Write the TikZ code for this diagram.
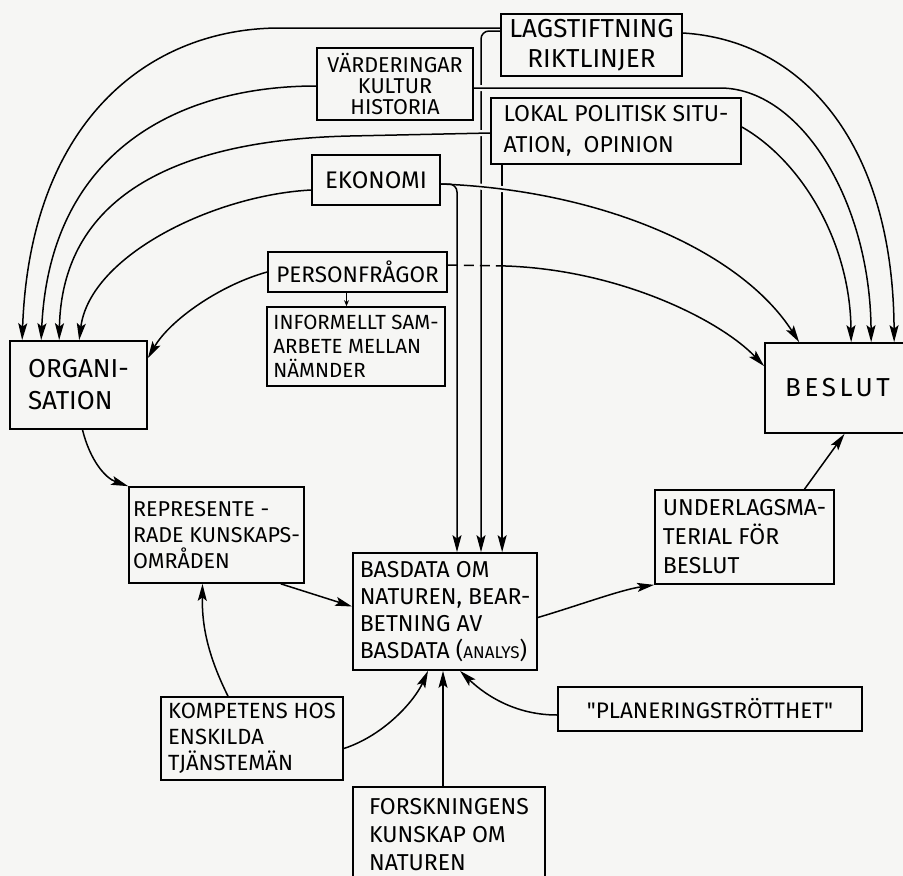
\documentclass[tikz,border=0pt]{standalone}
\usepackage{fontspec}
\setmainfont{Fira Sans}[Ligatures=TeXOff]
\usetikzlibrary{arrows.meta}
\pgfdeclarelayer{fg}
\pgfsetlayers{main,fg}
\definecolor{paper}{RGB}{246,246,244}
\newcommand\fsz[2]{\fontsize{#1}{#2}\selectfont}
\tikzset{
  box/.style={draw, line width=1.7pt, inner sep=0pt, align=left, font=\fsz{23}{27}},
  wire/.style={line width=1.5pt},
  conn/.style={wire, -{Stealth[length=17pt,width=9pt,inset=3.5pt]}},
  gap/.style={preaction={draw=paper, line width=6pt, -}},
  roundturn/.style={rounded corners=8pt},
}
\begin{document}
\begin{tikzpicture}[x=1pt,y=-1pt]
\fill[paper] (0,0) rectangle (903,876);
\useasboundingbox (0,0) rectangle (903,876);

% boxes, kept on top of the lines
\begin{pgfonlayer}{fg}
\node[box, minimum width=181pt, minimum height=62pt, align=center, font=\fsz{26}{30}] (lag) at (591.5,45) {LAGSTIFTNING\\RIKTLINJER};
\node[box, minimum width=156pt, minimum height=72pt, align=center, font=\fsz{21.5}{21}] (vard) at (395,84) {VÄRDERINGAR\\KULTUR\\HISTORIA};
\node[box, minimum width=250pt, minimum height=66pt, font=\fsz{23}{31}] (lokal) at (616,131) {LOKAL POLITISK SITU-\\ATION,\ \ OPINION};
\node[box, minimum width=128pt, minimum height=50pt, font=\fsz{24}{27}] (eko) at (376,180) {EKONOMI};
\node[box, minimum width=179pt, minimum height=40pt, font=\fsz{22.5}{27}] (pers) at (357.5,272) {PERSONFRÅGOR};
\node[box, minimum width=178pt, minimum height=79pt, font=\fsz{20.5}{24}] (inf) at (356,346.5) {INFORMELLT SAM-\\ARBETE MELLAN\\NÄMNDER};
\node[box, minimum width=137pt, minimum height=88pt, font=\fsz{26}{32}] (org) at (78.5,385) {ORGANI-\\SATION};
\node[box, minimum width=145pt, minimum height=90pt, font=\fsz{26}{27}] (beslut) at (837.5,388) {\addfontfeature{LetterSpace=14}BESLUT};
\node[box, minimum width=175pt, minimum height=96pt, font=\fsz{21.5}{26}] (repr) at (216.5,535) {REPRESENTE -\\RADE KUNSKAPS-\\OMRÅDEN};
\node[box, minimum width=179pt, minimum height=94pt, font=\fsz{23}{29}] (under) at (744.5,537) {UNDERLAGSMA-\\TERIAL FÖR\\BESLUT};
\node[box, minimum width=184pt, minimum height=117pt, font=\fsz{23}{27}] (bas) at (445,611.5) {BASDATA OM\\NATUREN, BEAR-\\BETNING AV\\BASDATA ({\fsz{17}{17}ANALYS})};
\node[box, minimum width=304pt, minimum height=44pt, font=\fsz{22.5}{27}] (plan) at (710,709) {"PLANERINGSTRÖTTHET"};
\node[box, minimum width=182pt, minimum height=83pt, font=\fsz{22}{26}] (komp) at (252,738.5) {KOMPETENS HOS\\ENSKILDA\\TJÄNSTEMÄN};
\node[box, minimum width=192pt, minimum height=96pt, font=\fsz{23}{28}] (forsk) at (449,835) {FORSKNINGENS\\KUNSKAP OM\\NATUREN};
\end{pgfonlayer}

% vertical feeds into the base data
\draw[conn, roundturn] ([yshift=14pt]lag.west) -| ([xshift=36pt]bas.north);
\draw[conn] ([xshift=12pt]lokal.south west) -- ([xshift=12pt]lokal.south west |- bas.north);

% influences on the decision
\draw[conn, gap] ([yshift=-4pt]eko.east) .. controls (600,190) and (740,250) .. ([xshift=35pt]beslut.north west);
\draw[conn, gap] ([yshift=-4pt]vard.east) -- (720,88) .. controls (800,88) and (870,200) .. ([xshift=107pt]beslut.north west);
\draw[conn] ([yshift=12pt]lag.east) .. controls (800,40) and (893,140) .. ([xshift=130pt]beslut.north west);
\draw[conn] ([yshift=4pt]lokal.east) .. controls (800,160) and (850,240) .. ([xshift=87pt]beslut.north west);
\coordinate (pj) at (506,266);
\draw[wire, dash pattern=on 10pt off 6pt] ([yshift=7pt]pers.east) -- (pj);
\draw[conn] (pj) .. controls (620,270) and (720,320) .. ([yshift=-24pt]beslut.north west);

% influences on the organisation
\draw[conn] ([yshift=17pt]lag.west) -- (280,28) .. controls (150,28) and (30,120) .. ([xshift=13pt]org.north west);
\draw[conn] ([yshift=-2pt]vard.west) .. controls (180,86) and (50,150) .. ([xshift=32pt]org.north west);
\draw[conn, gap] ([yshift=-2pt]lokal.west) -- (350,136) .. controls (170,140) and (62,200) .. ([xshift=50pt]org.north west);
\draw[conn] ([yshift=-10pt]eko.west) .. controls (215,195) and (90,255) .. ([xshift=70pt]org.north west);
\draw[conn] (pers.west) .. controls (220,285) and (170,320) .. ([yshift=-18pt]org.north east);

\draw[conn, roundturn] ([yshift=-4pt]eko.east) -| ([xshift=12pt]bas.north);

\draw[wire, -{Stealth[length=6pt,width=5pt]}] ([xshift=-11pt]pers.south) -- ([xshift=-11pt]pers.south |- inf.north);

% lower part
\draw[conn] ([xshift=4pt]org.south) .. controls (90,460) and (105,478) .. (repr.north west);
\draw[conn] ([xshift=-24pt]repr.south east) -- ([yshift=5pt]bas.west);
\draw[conn] ([xshift=-24pt]komp.north) .. controls (205,650) and (202,620) .. ([xshift=-14pt]repr.south);
\draw[conn] ([yshift=-10pt]komp.east) .. controls (385,735) and (415,700) .. ([xshift=-17pt]bas.south);
\draw[conn] ([xshift=-2pt]bas.south |- forsk.north) -- ([xshift=-2pt]bas.south);
\draw[conn] ([yshift=-6pt]plan.west) .. controls (510,715) and (480,690) .. ([xshift=15pt]bas.south);
\draw[conn] ([yshift=-6pt]bas.east) .. controls (580,605) and (620,590) .. (under.south west);
\draw[conn] ([xshift=60pt]under.north) -- ([xshift=7pt]beslut.south);
\end{tikzpicture}
\end{document}
